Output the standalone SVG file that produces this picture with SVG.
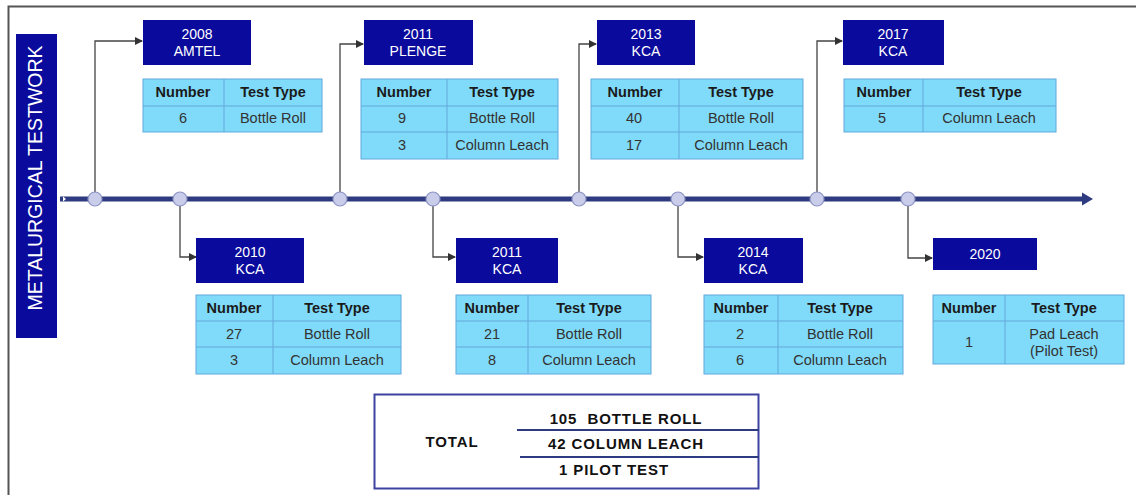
<svg xmlns="http://www.w3.org/2000/svg" width="1136" height="495" viewBox="0 0 1136 495">
<defs>
<marker id="ah" markerWidth="8" markerHeight="8" refX="7" refY="4" orient="auto" markerUnits="userSpaceOnUse"><path d="M0,0 L8,4 L0,8 Z" fill="#333"/></marker>
<style>
text{font-family:"Liberation Sans",Arial,sans-serif}
.yb{fill:#0a0a9c}
.yt{fill:#fff;font-size:14px;text-anchor:middle}
.tb{fill:#80dbfa;stroke:#62a8dc;stroke-width:1}
.tl{stroke:#62a8dc;stroke-width:1}
.th{font-size:14.5px;font-weight:bold;fill:#1a1a1a;text-anchor:middle}
.td{font-size:14.5px;fill:#333;text-anchor:middle}
.cn{fill:none;stroke:#444;stroke-width:1.3}
.dot{fill:#c9cdea;stroke:#8d94c4;stroke-width:1.2}
.tot{font-size:15px;font-weight:bold;fill:#111;text-anchor:middle;letter-spacing:0.9px}
</style>
</defs>
<rect width="1136" height="495" fill="#fff"/>
<path d="M8.5,495 V6.5 H1136" fill="none" stroke="#555" stroke-width="2"/>
<g id="title">
<rect x="16" y="34" width="41" height="304" class="yb"/>
<text transform="translate(42,178) rotate(-90)" fill="#fff" font-size="19.5" text-anchor="middle">METALURGICAL TESTWORK</text>
</g>
<g id="connectors">
<path d="M60,199 H1084" stroke="#2f3b80" stroke-width="5" fill="none"/>
<path d="M63,196.5 L66,199 L63,201.5" fill="#fff"/>
<path d="M1082,192.5 L1093,199 L1082,205.5 Z" fill="#2f3b80"/>
<path class="cn" d="M95,199 V41 H142" marker-end="url(#ah)"/>
<path class="cn" d="M340,199 V44 H363" marker-end="url(#ah)"/>
<path class="cn" d="M579,199 V44 H596" marker-end="url(#ah)"/>
<path class="cn" d="M817,199 V41 H842" marker-end="url(#ah)"/>
<path class="cn" d="M180,199 V257 H196" marker-end="url(#ah)"/>
<path class="cn" d="M433,199 V257 H455" marker-end="url(#ah)"/>
<path class="cn" d="M678,199 V257 H703" marker-end="url(#ah)"/>
<path class="cn" d="M908,199 V258 H932" marker-end="url(#ah)"/>
<circle class="dot" cx="95" cy="199" r="7"/>
<circle class="dot" cx="180" cy="199" r="7"/>
<circle class="dot" cx="340" cy="199" r="7"/>
<circle class="dot" cx="433" cy="199" r="7"/>
<circle class="dot" cx="579" cy="199" r="7"/>
<circle class="dot" cx="678" cy="199" r="7"/>
<circle class="dot" cx="817" cy="199" r="7"/>
<circle class="dot" cx="908" cy="199" r="7"/>
</g>
<g id="n2008">
<rect x="143" y="20" width="108" height="45" class="yb"/>
<text class="yt" x="197" y="39">2008</text><text class="yt" x="197" y="56">AMTEL</text>
<rect class="tb" x="143" y="79" width="179" height="53"/>
<line class="tl" x1="143" y1="106" x2="322" y2="106"/><line class="tl" x1="224" y1="79" x2="224" y2="132"/>
<text class="th" x="183" y="97">Number</text><text class="th" x="273" y="97">Test Type</text>
<text class="td" x="183" y="123">6</text><text class="td" x="273" y="123">Bottle Roll</text>
</g>
<g id="n2011p">
<rect x="364" y="20" width="109" height="45" class="yb"/>
<text class="yt" x="418" y="39">2011</text><text class="yt" x="418" y="56">PLENGE</text>
<rect class="tb" x="361" y="79" width="197" height="80"/>
<line class="tl" x1="361" y1="106" x2="558" y2="106"/><line class="tl" x1="361" y1="132" x2="558" y2="132"/><line class="tl" x1="447" y1="79" x2="447" y2="159"/>
<text class="th" x="404" y="97">Number</text><text class="th" x="502" y="97">Test Type</text>
<text class="td" x="402" y="123">9</text><text class="td" x="502" y="123">Bottle Roll</text>
<text class="td" x="402" y="150">3</text><text class="td" x="502" y="150">Column Leach</text>
</g>
<g id="n2013">
<rect x="597" y="20" width="98" height="45" class="yb"/>
<text class="yt" x="646" y="39">2013</text><text class="yt" x="646" y="56">KCA</text>
<rect class="tb" x="591" y="79" width="212" height="80"/>
<line class="tl" x1="591" y1="106" x2="803" y2="106"/><line class="tl" x1="591" y1="132" x2="803" y2="132"/><line class="tl" x1="679" y1="79" x2="679" y2="159"/>
<text class="th" x="635" y="97">Number</text><text class="th" x="741" y="97">Test Type</text>
<text class="td" x="634" y="123">40</text><text class="td" x="741" y="123">Bottle Roll</text>
<text class="td" x="634" y="150">17</text><text class="td" x="741" y="150">Column Leach</text>
</g>
<g id="n2017">
<rect x="843" y="20" width="101" height="45" class="yb"/>
<text class="yt" x="893" y="39">2017</text><text class="yt" x="893" y="56">KCA</text>
<rect class="tb" x="844" y="79" width="212" height="53"/>
<line class="tl" x1="844" y1="106" x2="1056" y2="106"/><line class="tl" x1="923" y1="79" x2="923" y2="132"/>
<text class="th" x="884" y="97">Number</text><text class="th" x="989" y="97">Test Type</text>
<text class="td" x="882" y="123">5</text><text class="td" x="989" y="123">Column Leach</text>
</g>
<g id="n2010">
<rect x="196" y="238" width="108" height="45" class="yb"/>
<text class="yt" x="250" y="257">2010</text><text class="yt" x="250" y="274">KCA</text>
<rect class="tb" x="196" y="295" width="205" height="79"/>
<line class="tl" x1="196" y1="321" x2="401" y2="321"/><line class="tl" x1="196" y1="347" x2="401" y2="347"/><line class="tl" x1="273" y1="295" x2="273" y2="374"/>
<text class="th" x="234" y="313">Number</text><text class="th" x="337" y="313">Test Type</text>
<text class="td" x="234" y="339">27</text><text class="td" x="337" y="339">Bottle Roll</text>
<text class="td" x="234" y="365">3</text><text class="td" x="337" y="365">Column Leach</text>
</g>
<g id="n2011k">
<rect x="456" y="238" width="102" height="45" class="yb"/>
<text class="yt" x="507" y="257">2011</text><text class="yt" x="507" y="274">KCA</text>
<rect class="tb" x="456" y="295" width="195" height="79"/>
<line class="tl" x1="456" y1="321" x2="651" y2="321"/><line class="tl" x1="456" y1="347" x2="651" y2="347"/><line class="tl" x1="528" y1="295" x2="528" y2="374"/>
<text class="th" x="492" y="313">Number</text><text class="th" x="589" y="313">Test Type</text>
<text class="td" x="492" y="339" font-size="13">21</text><text class="td" x="589" y="339">Bottle Roll</text>
<text class="td" x="492" y="365">8</text><text class="td" x="589" y="365">Column Leach</text>
</g>
<g id="n2014">
<rect x="704" y="238" width="99" height="45" class="yb"/>
<text class="yt" x="753" y="257">2014</text><text class="yt" x="753" y="274">KCA</text>
<rect class="tb" x="704" y="295" width="199" height="79"/>
<line class="tl" x1="704" y1="321" x2="903" y2="321"/><line class="tl" x1="704" y1="347" x2="903" y2="347"/><line class="tl" x1="778" y1="295" x2="778" y2="374"/>
<text class="th" x="741" y="313">Number</text><text class="th" x="840" y="313">Test Type</text>
<text class="td" x="740" y="339">2</text><text class="td" x="840" y="339">Bottle Roll</text>
<text class="td" x="740" y="365">6</text><text class="td" x="840" y="365">Column Leach</text>
</g>
<g id="n2020">
<rect x="933" y="238" width="104" height="32" class="yb"/>
<text class="yt" x="985" y="259">2020</text>
<rect class="tb" x="933" y="295" width="191" height="69"/>
<line class="tl" x1="933" y1="321" x2="1124" y2="321"/><line class="tl" x1="1005" y1="295" x2="1005" y2="364"/>
<text class="th" x="969" y="313">Number</text><text class="th" x="1064" y="313">Test Type</text>
<text class="td" x="969" y="347">1</text>
<text class="td" x="1064" y="339">Pad Leach</text><text class="td" x="1064" y="356">(Pilot Test)</text>
</g>
<g id="total">
<rect x="374.5" y="394.5" width="384" height="94" fill="#fff" stroke="#3d43a0" stroke-width="2"/>
<line x1="517" y1="430" x2="759" y2="430" stroke="#2f3b80" stroke-width="1.8"/>
<line x1="520" y1="457" x2="759" y2="457" stroke="#2f3b80" stroke-width="1.8"/>
<text class="tot" x="452" y="447">TOTAL</text>
<text class="tot" x="626" y="424" xml:space="preserve">105  BOTTLE ROLL</text>
<text class="tot" x="626" y="449">42 COLUMN LEACH</text>
<text class="tot" x="614" y="475">1 PILOT TEST</text>
</g>
</svg>
